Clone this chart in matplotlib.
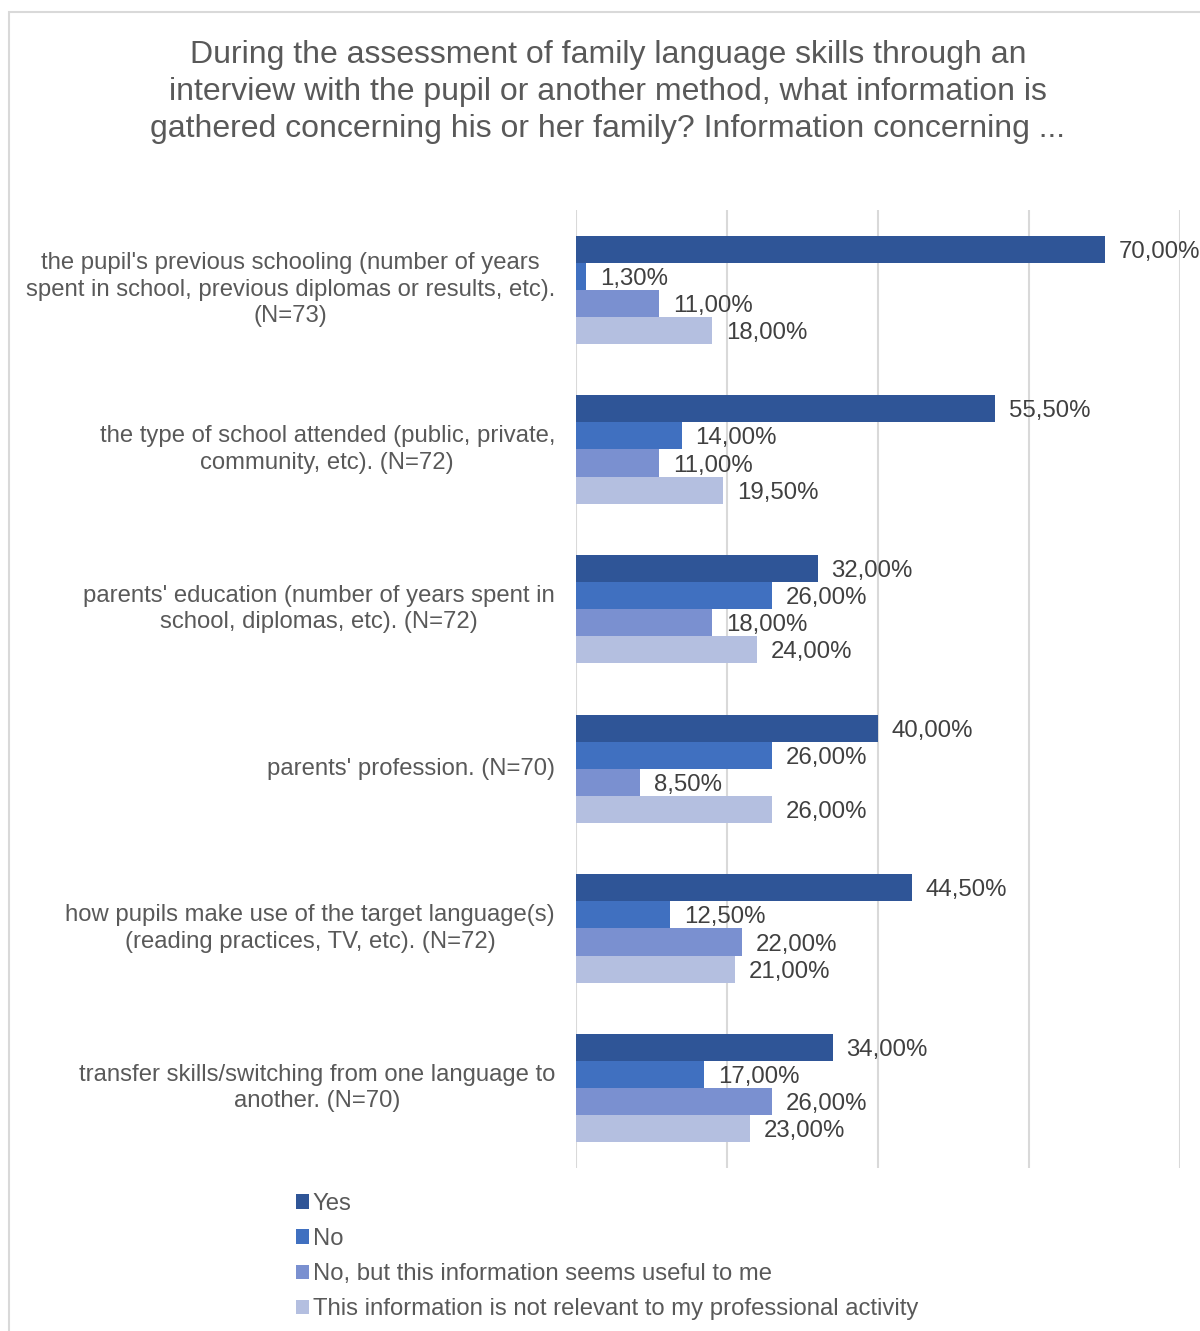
import matplotlib.pyplot as plt
import numpy as np
from matplotlib.patches import Rectangle

categories = [
    "the pupil's previous schooling (number of years\nspent in school, previous diplomas or results, etc).\n(N=73)",
    "the type of school attended (public, private,\ncommunity, etc). (N=72)",
    "parents' education (number of years spent in\nschool, diplomas, etc). (N=72)",
    "parents' profession. (N=70)",
    "how pupils make use of the target language(s)\n(reading practices, TV, etc). (N=72)",
    "transfer skills/switching from one language to\nanother. (N=70)",
]
series_names = [
    "Yes",
    "No",
    "No, but this information seems useful to me",
    "This information is not relevant to my professional activity",
]
yes = [70.0, 55.5, 32.0, 40.0, 44.5, 34.0]
no = [1.3, 14.0, 26.0, 26.0, 12.5, 17.0]
no_useful = [11.0, 11.0, 18.0, 8.5, 22.0, 26.0]
not_relevant = [18.0, 19.5, 24.0, 26.0, 21.0, 23.0]

colors = ['#2F5597', '#4070C0', '#7A90D0', '#B4BFE0']
text_grey = '#595959'

plt.rcParams['font.family'] = ['Liberation Sans', 'DejaVu Sans']

fig = plt.figure(figsize=(12, 13.31), dpi=100)
ax = fig.add_axes([576/1200, 1 - 1168/1331, 604/1200, 958/1331])

# light frame round the chart area
fig.add_artist(Rectangle((9/1200, -0.05), 1.2, 1 - 12/1331 + 0.05,
                         transform=fig.transFigure, fill=False,
                         edgecolor='#D9D9D9', linewidth=1.5))

y = np.arange(len(categories))
h = 0.17
all_series = [yes, no, no_useful, not_relevant]
for i, (vals, name) in enumerate(zip(all_series, series_names)):
    pos = y + (i - 1.5) * h
    ax.barh(pos, vals, height=h, color=colors[i], label=name, zorder=3)
    for v, p in zip(vals, pos):
        lbl = ('%.2f%%' % v).replace('.', ',')
        ax.annotate(lbl, (v, p), xytext=(10, 0), textcoords='offset points',
                    ha='left', va='center_baseline', fontsize=17.3,
                    color='#404040', zorder=4)

ax.set_xlim(0, 80)
ax.set_ylim(len(categories) - 0.5, -0.5)
ax.set_xticks([0, 20, 40, 60, 80])
ax.xaxis.grid(True, color='#D9D9D9', linewidth=1.5, zorder=0)
ax.tick_params(length=0, labelbottom=False, labelleft=False)
for s in ax.spines.values():
    s.set_visible(False)

for cat, p in zip(categories, y):
    ax.text(-21 / 604 * 80, p, cat, ha='right', va='center',
            multialignment='center', fontsize=17.2, color=text_grey,
            linespacing=1.27)

fig.text(608/1200, 1 - 92/1331,
         "During the assessment of family language skills through an\n"
         "interview with the pupil or another method, what information is\n"
         "gathered concerning his or her family? Information concerning ...",
         ha='center', va='center', fontsize=23, color=text_grey,
         linespacing=1.305)

leg = ax.legend(loc='upper left', bbox_to_anchor=(296/1200, 1 - 1193/1331),
                bbox_transform=fig.transFigure, frameon=False, fontsize=17.2,
                handlelength=0.55, handleheight=0.55, handletextpad=0.15,
                labelspacing=0.55, borderpad=0, borderaxespad=0)
for t in leg.get_texts():
    t.set_color(text_grey)

fig.savefig('out.png')
